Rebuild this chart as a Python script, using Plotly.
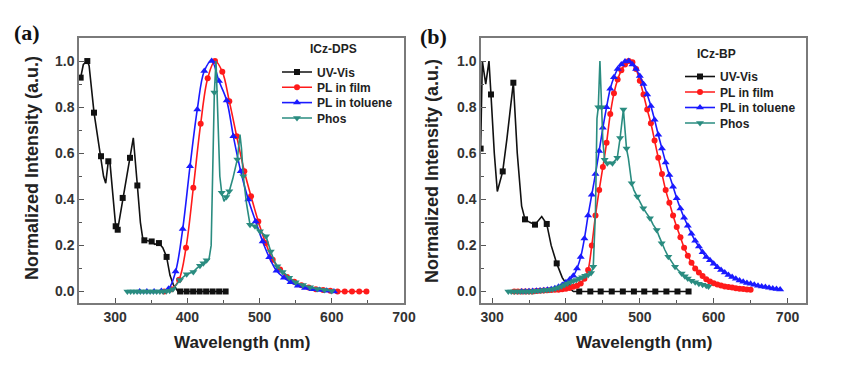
import plotly.graph_objects as go

# page body has an 8px margin; lay everything out in reference pixels and shift
OFF = 8
FW, FH = 856, 372


def fx(px):
    return (px - OFF) / FW


def fy(py):
    return 1 - (py - OFF) / FH


# ---------------- Panel (a): ICz-DPS ----------------
a_uv_x = [252.3, 256, 261.5, 264, 270.8, 280.5, 284, 287, 290.6, 293, 296, 300.8, 303.6, 307, 310.5,
          316, 320.6, 325.2, 330.8, 335, 338, 340.5, 345, 350.6, 355, 360.7, 366, 371.3, 376, 380.6,
          387, 390, 399, 408, 417, 426, 435, 444, 453]
a_uv_y = [0.928, 0.985, 1.0, 0.98, 0.776, 0.587, 0.5, 0.47, 0.565, 0.555, 0.45, 0.283, 0.268, 0.33, 0.406,
          0.5, 0.58, 0.667, 0.46, 0.3, 0.235, 0.222, 0.22, 0.217, 0.205, 0.21, 0.19, 0.15, 0.07, 0.03,
          0.0, 0, 0, 0, 0, 0, 0, 0, 0]
a_uv_mk = [1, 0, 1, 0, 1, 1, 0, 0, 1, 0, 0, 1, 1, 0, 1,
           0, 1, 0, 1, 0, 0, 1, 0, 1, 0, 1, 0, 1, 0, 0,
           0, 1, 1, 1, 1, 1, 1, 1, 1]

a_film_x = [368, 378, 388.5, 398.2, 408.3, 418.5, 428.2, 438.3, 448.4, 458.1, 468.3, 478.9, 488.2, 498.3,
            508.5, 518.2, 528.4, 538, 548, 558, 568, 578, 588, 598, 608, 618, 628, 638, 648]
a_film_y = [0.0, 0.01, 0.051, 0.19, 0.45, 0.728, 0.925, 1.0, 0.954, 0.826, 0.674, 0.522, 0.413, 0.304,
            0.21, 0.138, 0.095, 0.063, 0.042, 0.027, 0.017, 0.01, 0.006, 0.003, 0.0, 0.0, 0.0, 0.0, 0.0]

a_tol_x = [334, 344, 354, 364, 374, 383.8, 393.6, 403.7, 413.8, 423.5, 433.7, 443.8, 454.5, 463.7,
           473.9, 484.4, 494.6, 504.3, 513.4, 523.5, 533.7, 543, 553, 563, 573, 583, 593, 603]
a_tol_y = [0.0, 0.0, 0.0, 0.002, 0.012, 0.087, 0.271, 0.543, 0.79, 0.957, 1.0, 0.913, 0.829, 0.674,
           0.522, 0.399, 0.304, 0.217, 0.148, 0.09, 0.06, 0.04, 0.025, 0.015, 0.01, 0.006, 0.003, 0.0]

a_ph_x = [317, 321.5, 326, 330.5, 335, 339.5, 344, 348.5, 353, 357.5, 362, 366.5, 371, 375.5, 380,
          385, 389.9, 395, 399.1, 404, 408.3, 413, 417.5, 422.2, 426.7, 430, 433, 435, 437.4, 439.7,
          442, 445, 447.6, 450.8, 454, 458.1, 463, 469.2, 472.9, 475, 477.5, 482, 486.8, 493.7, 500.6,
          505, 509, 515.5, 520, 524.6, 532, 536.5, 541, 545.5, 550, 555, 560, 565, 570, 575,
          580, 585, 590, 595, 600]
a_ph_y = [0, 0, 0, 0, 0, 0, 0, 0, 0, 0, 0, 0, 0.001, 0.003, 0.01,
          0.03, 0.05, 0.065, 0.075, 0.08, 0.085, 0.1, 0.112, 0.123, 0.135, 0.14, 0.2, 0.5, 0.863, 1.0,
          0.75, 0.5, 0.428, 0.391, 0.41, 0.435, 0.49, 0.573, 0.681, 0.62, 0.5, 0.38, 0.29, 0.283, 0.261,
          0.25, 0.24, 0.174, 0.135, 0.109, 0.085, 0.073, 0.06, 0.05, 0.04, 0.034, 0.028, 0.022, 0.018, 0.014,
          0.011, 0.008, 0.006, 0.004, 0.002]
a_ph_mk = [1, 1, 1, 1, 1, 1, 1, 1, 1, 1, 1, 1, 1, 1, 1,
           0, 1, 0, 1, 0, 1, 0, 1, 1, 1, 0, 0, 0, 1, 0,
           0, 0, 1, 0, 1, 1, 0, 1, 0, 0, 1, 0, 1, 1, 1,
           0, 1, 1, 0, 1, 1, 0, 1, 0, 1, 0, 1, 0, 1, 0,
           1, 0, 1, 0, 1]

# ---------------- Panel (b): ICz-BP ----------------
b_uv_x = [284.5, 286.8, 291.4, 295.8, 298.5, 303, 307.1, 310, 314.4, 320, 325, 328.8, 334.1, 340, 344.6,
          351, 358.1, 363, 367.2, 374, 380, 387.5, 395, 403.2, 410, 418, 433, 447, 462, 477, 492, 506,
          521, 536, 551, 566]
b_uv_y = [0.62, 1.0, 0.9, 1.0, 0.855, 0.6, 0.434, 0.47, 0.521, 0.66, 0.8, 0.906, 0.6, 0.37, 0.313,
          0.3, 0.29, 0.31, 0.325, 0.293, 0.2, 0.122, 0.06, 0.02, 0.0, 0, 0, 0, 0, 0, 0, 0,
          0, 0, 0, 0]
b_uv_mk = [1, 0, 0, 0, 1, 0, 0, 0, 1, 0, 0, 1, 0, 0, 1,
           0, 1, 0, 0, 1, 0, 1, 0, 1, 0, 1, 1, 1, 1, 1, 1, 1,
           1, 1, 1, 1]

b_film_x = [330, 335, 340, 345, 350, 355, 360, 365, 370, 375, 380, 385, 390, 395, 400, 405, 410, 415,
            420, 425, 430, 435, 440, 445, 450, 455, 460, 465, 470, 475, 480, 485, 490, 495, 500, 505,
            510, 515, 520, 525, 530, 535, 540, 545, 550, 555, 560, 565, 570, 575, 580, 585, 590, 595,
            600, 605, 610, 615, 620, 625, 630, 635, 640, 645, 650]
b_film_y = [0, 0, 0, 0, 0, 0, 0.002, 0.003, 0.004, 0.005, 0.006, 0.007, 0.008, 0.01, 0.012, 0.015, 0.02, 0.025,
            0.035, 0.055, 0.093, 0.2, 0.33, 0.44, 0.54, 0.645, 0.77, 0.86, 0.92, 0.96, 0.985, 1.0, 0.995, 0.965, 0.915, 0.855,
            0.79, 0.73, 0.655, 0.58, 0.51, 0.44, 0.385, 0.33, 0.28, 0.235, 0.19, 0.155, 0.125, 0.1, 0.082, 0.067, 0.053, 0.043,
            0.036, 0.03, 0.026, 0.022, 0.019, 0.017, 0.014, 0.012, 0.011, 0.009, 0.008]

b_tol_x = [340, 345, 350, 355, 360, 365, 370, 375, 380, 385, 390, 395, 400, 405, 410, 415, 420, 425,
           430, 435, 440, 445, 450, 455, 460, 465, 470, 475, 480, 485, 490, 495, 500, 505, 510, 515,
           520, 525, 530, 535, 540, 545, 550, 555, 560, 565, 570, 575, 580, 585, 590, 595, 600, 605,
           610, 615, 620, 625, 630, 635, 640, 645, 650, 655, 660, 665, 670, 675, 680, 685, 690]
b_tol_y = [0.0, 0.0, 0.001, 0.002, 0.003, 0.004, 0.005, 0.007, 0.01, 0.014, 0.02, 0.028, 0.04, 0.052, 0.068, 0.1, 0.15, 0.23,
           0.33, 0.42, 0.51, 0.61, 0.71, 0.8, 0.88, 0.93, 0.965, 0.985, 0.998, 1.0, 0.985, 0.965, 0.935, 0.9, 0.855, 0.805,
           0.745, 0.68, 0.62, 0.56, 0.505, 0.455, 0.405, 0.36, 0.32, 0.285, 0.25, 0.22, 0.195, 0.17, 0.15, 0.135, 0.12, 0.105,
           0.093, 0.082, 0.072, 0.063, 0.055, 0.048, 0.042, 0.037, 0.033, 0.029, 0.025, 0.022, 0.019, 0.016, 0.013, 0.011, 0.009]

b_ph_x = [322, 326, 330, 334, 338, 342, 346, 350, 354, 358, 362, 366, 370, 374, 378, 382, 386, 390,
          394, 398, 402, 406, 410, 414, 418, 422, 426, 430, 434, 437, 440, 442, 443.8, 446, 448.3, 450,
          452.4, 456, 460, 463, 467, 469.5, 473.3, 477.8, 480, 482, 484.5, 489, 492, 496.6, 500, 504.7,
          509, 513.8, 518, 522.9, 526, 529.6, 534, 538.6, 543, 547.7, 552, 556.7, 561, 565, 570, 575,
          580, 585, 590, 593]
b_ph_y = [0, 0, 0, 0, 0, 0, 0, 0, 0, 0.002, 0.003, 0.004, 0.005, 0.006, 0.008, 0.01, 0.013, 0.017,
          0.022, 0.028, 0.035, 0.04, 0.045, 0.05, 0.056, 0.062, 0.068, 0.072, 0.08, 0.107, 0.35, 0.75, 0.8, 1.0, 0.8, 0.65,
          0.572, 0.557, 0.555, 0.556, 0.57, 0.58, 0.666, 0.79, 0.7, 0.62, 0.579, 0.47, 0.44, 0.412, 0.385, 0.361,
          0.34, 0.318, 0.29, 0.267, 0.24, 0.209, 0.18, 0.151, 0.128, 0.107, 0.092, 0.078, 0.066, 0.056, 0.047, 0.04,
          0.034, 0.029, 0.025, 0.022]
b_ph_mk = [1, 1, 1, 1, 1, 1, 1, 1, 1, 1, 1, 1, 1, 1, 1, 1, 1, 1,
           1, 1, 1, 1, 1, 1, 1, 1, 1, 1, 1, 1, 0, 0, 1, 0, 1, 0,
           1, 1, 0, 1, 0, 1, 1, 1, 0, 1, 0, 1, 0, 1, 0, 1,
           0, 1, 0, 1, 0, 1, 0, 1, 0, 1, 0, 1, 1, 1, 1, 1,
           1, 1, 1, 1]

names = ["UV-Vis", "PL in film", "PL in toluene", "Phos"]
colors = ["#111111", "#ff1a1a", "#1a1aff", "#2a8c80"]
symbols = ["square", "circle", "triangle-up", "triangle-down"]
sizes = [6, 6, 7, 7]

FONT = "Liberation Sans, Arial, sans-serif"

fig = go.Figure()


def add_series(x, y, mk, idx, xa, ya, legend_id, shape):
    color = colors[idx]
    fig.add_trace(go.Scatter(x=x, y=y, mode="lines", xaxis=xa, yaxis=ya,
                             line=dict(color=color, width=1.6, shape=shape),
                             showlegend=False, hoverinfo="skip"))
    if mk is None:
        mx, my = x, y
    else:
        mx = [xi for xi, f in zip(x, mk) if f]
        my = [yi for yi, f in zip(y, mk) if f]
    fig.add_trace(go.Scatter(x=mx, y=my, mode="markers", xaxis=xa, yaxis=ya,
                             marker=dict(symbol=symbols[idx], size=sizes[idx], color=color,
                                         line=dict(width=0)),
                             showlegend=False, name=names[idx]))
    fig.add_trace(go.Scatter(x=[None], y=[None], mode="lines+markers", xaxis=xa, yaxis=ya,
                             line=dict(color=color, width=1.6),
                             marker=dict(symbol=symbols[idx], size=sizes[idx], color=color),
                             name=names[idx], legend=legend_id, showlegend=True))


add_series(a_uv_x, a_uv_y, a_uv_mk, 0, "x", "y", "legend", "linear")
add_series(a_film_x, a_film_y, None, 1, "x", "y", "legend2", "spline")
add_series(a_tol_x, a_tol_y, None, 2, "x", "y", "legend3", "spline")
add_series(a_ph_x, a_ph_y, a_ph_mk, 3, "x", "y", "legend4", "linear")

add_series(b_uv_x, b_uv_y, b_uv_mk, 0, "x2", "y2", "legend5", "linear")
add_series(b_film_x, b_film_y, None, 1, "x2", "y2", "legend6", "spline")
add_series(b_tol_x, b_tol_y, None, 2, "x2", "y2", "legend7", "spline")
add_series(b_ph_x, b_ph_y, b_ph_mk, 3, "x2", "y2", "legend8", "linear")

tickfont = dict(family=FONT, size=14, color="#333333", weight="bold")
frame = dict(showline=True, linecolor="#7a7a7a", linewidth=1.5, mirror=True,
             ticks="inside", ticklen=5, tickwidth=1.2, tickcolor="#555555",
             showgrid=False, zeroline=False, tickfont=tickfont, automargin=False)

ydom = [fy(303), fy(38)]

xa = dict(frame, domain=[fx(79), fx(404)], range=[250, 700], dtick=100, tick0=0,
          minor=dict(ticks="inside", ticklen=3, dtick=50, tick0=0, tickcolor="#555555"), anchor="y")
xb = dict(frame, domain=[fx(481), fx(806)], range=[285, 725], dtick=100, tick0=0,
          minor=dict(ticks="inside", ticklen=3, dtick=50, tick0=0, tickcolor="#555555"), anchor="y2")
ya = dict(frame, domain=ydom, range=[-0.05, 1.1], dtick=0.2, tick0=0, tickformat=".1f",
          minor=dict(ticks="inside", ticklen=3, dtick=0.1, tick0=0, tickcolor="#555555"), anchor="x")
yb = dict(frame, domain=ydom, range=[-0.05, 1.1], dtick=0.2, tick0=0, tickformat=".1f",
          minor=dict(ticks="inside", ticklen=3, dtick=0.1, tick0=0, tickcolor="#555555"), anchor="x2")

legfont = dict(family=FONT, size=12, color="#222222", weight="bold")


def leg(xpx, ypx):
    return dict(x=fx(xpx), y=fy(ypx), xanchor="left", yanchor="middle",
                bgcolor="rgba(0,0,0,0)", borderwidth=0, font=legfont,
                itemclick=False, itemdoubleclick=False)


layout = dict(
    width=FW, height=FH, margin=dict(l=0, r=0, t=0, b=0),
    paper_bgcolor="white", plot_bgcolor="white",
    xaxis=xa, yaxis=ya, xaxis2=xb, yaxis2=yb,
    legend=leg(277, 72), legend2=leg(277, 87.3), legend3=leg(277, 102.6), legend4=leg(277, 118),
    legend5=leg(680, 76.5), legend6=leg(680, 92), legend7=leg(680, 107.5), legend8=leg(680, 123),
)
fig.update_layout(**layout)

ann = []
ann.append(dict(text="ICz-DPS", x=fx(333), y=fy(49), font=legfont))
ann.append(dict(text="ICz-BP", x=fx(716), y=fy(54), font=legfont))
serif = dict(family="Liberation Serif, Times New Roman, serif", size=22, color="#111111", weight="bold")
ann.append(dict(text="(a)", x=fx(27), y=fy(33), font=serif))
ann.append(dict(text="(b)", x=fx(433), y=fy(36), font=serif))
titlefont = dict(family=FONT, size=17, color="#222222", weight="bold")
ann.append(dict(text="Wavelength (nm)", x=fx(241.5), y=fy(342), font=titlefont))
ann.append(dict(text="Wavelength (nm)", x=fx(643.5), y=fy(342), font=titlefont))
ytfont = dict(family=FONT, size=18, color="#222222", weight="bold")
ann.append(dict(text="Normalized Intensity (a.u.)", x=fx(32), y=fy(168), textangle=-90, font=ytfont))
ann.append(dict(text="Normalized Intensity (a.u.)", x=fx(432), y=fy(171), textangle=-90, font=ytfont))

for a in ann:
    a.update(xref="paper", yref="paper", showarrow=False, xanchor="center", yanchor="middle")
fig.update_layout(annotations=ann)

fig.write_html("out.html")
